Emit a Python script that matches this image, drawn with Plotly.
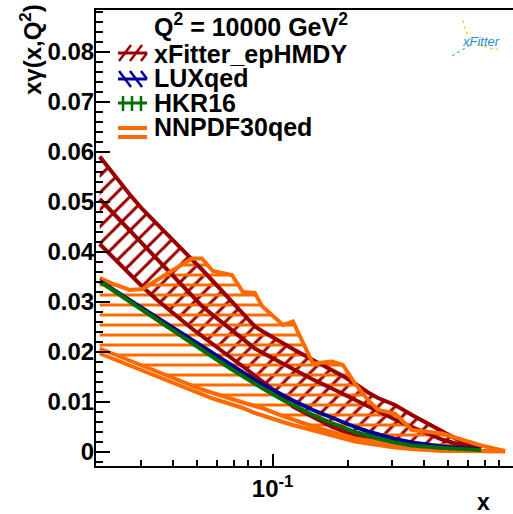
import plotly.graph_objects as go

# ---------------- data ----------------
# x grid shared by xFitter_epHMDY, LUXqed and HKR16
x_main = [0.0205, 0.0235, 0.0270, 0.0304, 0.0349, 0.0408, 0.0477, 0.0523, 0.0578,
          0.0689, 0.0762, 0.0850, 0.0907, 0.1099, 0.1205, 0.1447, 0.1723, 0.1905,
          0.2128, 0.2398, 0.2628, 0.3071, 0.3589, 0.4727, 0.5679, 0.6758]
# NNPDF30qed extends one point further
x_nnpdf = x_main + [0.8424]

xfitter_up = [0.0590, 0.0552, 0.0514, 0.0484, 0.0454, 0.0420, 0.0386, 0.0364, 0.0341,
              0.0299, 0.0277, 0.0250, 0.0241, 0.0216, 0.0205, 0.0183, 0.0163, 0.0151,
              0.0136, 0.0118, 0.0107, 0.0093, 0.0073, 0.0040, 0.0019, 0.0010]
xfitter_cen = [0.0505, 0.0474, 0.0442, 0.0414, 0.0383, 0.0347, 0.0311, 0.0291, 0.0273,
               0.0243, 0.0225, 0.0206, 0.0198, 0.0175, 0.0165, 0.0144, 0.0126, 0.0115,
               0.0102, 0.0090, 0.0080, 0.0064, 0.0049, 0.0024, 0.0012, 0.0006]
xfitter_lo = [0.0415, 0.0385, 0.0354, 0.0329, 0.0302, 0.0273, 0.0246, 0.0231, 0.0214,
              0.0186, 0.0170, 0.0153, 0.0141, 0.0109, 0.0090, 0.0069, 0.0049, 0.0041,
              0.0033, 0.0026, 0.0021, 0.0014, 0.0010, 0.0005, 0.0003, 0.0003]

luxqed = [0.0341, 0.0322, 0.0302, 0.0285, 0.0266, 0.0244, 0.0222, 0.0209, 0.0195,
          0.0171, 0.0157, 0.0143, 0.0135, 0.0112, 0.0102, 0.0083, 0.0067, 0.0058,
          0.0049, 0.0040, 0.0034, 0.0025, 0.0018, 0.0010, 0.0007, 0.0004]
hkr16 = [0.0340, 0.0320, 0.0299, 0.0281, 0.0261, 0.0238, 0.0216, 0.0203, 0.0189,
         0.0164, 0.0150, 0.0135, 0.0127, 0.0103, 0.0093, 0.0073, 0.0057, 0.0048,
         0.0039, 0.0032, 0.0026, 0.0018, 0.0012, 0.0007, 0.0005, 0.0003]

nnpdf_up = [0.0347, 0.0334, 0.0323, 0.0325, 0.0344, 0.0365, 0.0386, 0.0386, 0.0361,
            0.0353, 0.0319, 0.0317, 0.0291, 0.0253, 0.0260, 0.0176, 0.0180, 0.0173,
            0.0136, 0.0103, 0.0083, 0.0076, 0.0043, 0.0036, 0.0023, 0.0012, 0.0001]
nnpdf_lo = [0.0206, 0.0194, 0.0181, 0.0171, 0.0159, 0.0146, 0.0132, 0.0124, 0.0117,
            0.0104, 0.0098, 0.0091, 0.0087, 0.0071, 0.0064, 0.0050, 0.0039, 0.0033,
            0.0026, 0.0022, 0.0019, 0.0014, 0.0010, 0.0004, 0.0002, 0.0001, 0.0001]
nnpdf_lo2 = [0.0196, 0.0184, 0.0171, 0.0161, 0.0149, 0.0135, 0.0121, 0.0114, 0.0106,
             0.0094, 0.0087, 0.0077, 0.0072, 0.0059, 0.0053, 0.0042, 0.0032, 0.0026,
             0.0020, 0.0016, 0.0013, 0.0008, 0.0005, 0.0001, 0.0001, 0.0000, 0.0000]

y_tickvals = [0.0, 0.01, 0.02, 0.03, 0.04, 0.05, 0.06, 0.07, 0.08]
y_ticktext = ["0", "0.01", "0.02", "0.03", "0.04", "0.05", "0.06", "0.07", "0.08"]
x_tickvals = [0.1]
x_ticktext = ["10<sup>-1</sup>"]
x_minor = [0.03, 0.04, 0.05, 0.06, 0.07, 0.08, 0.09, 0.2, 0.3, 0.4, 0.5, 0.6, 0.7, 0.8, 0.9]

legend_title = "Q<sup>2</sup> = 10000 GeV<sup>2</sup>"
legend_labels = ["xFitter_epHMDY", "LUXqed", "HKR16", "NNPDF30qed"]

# ---------------- style ----------------
RED = "#990000"
BLUE = "#000099"
GREEN = "#006e00"
ORANGE = "#ff6a00"
FONT = "Liberation Sans, Arial, sans-serif"

W, H = 513, 514
ML, MR, MT, MB = 96, 0, 10, 48


def pxx(p):
    return (p - ML) / (W - ML - MR)


def pxy(p):
    return (H - MB - p) / (H - MT - MB)


fig = go.Figure()

# xFitter band: diagonal hatching between upper and lower edges
fig.add_trace(go.Scatter(
    x=x_main + x_main[::-1], y=xfitter_up + xfitter_lo[::-1],
    mode="lines", line=dict(width=0), fill="toself", fillcolor=RED,
    fillpattern=dict(shape="/", size=12, solidity=0.25, fgcolor=RED, fgopacity=1,
                     bgcolor="rgba(255,255,255,0)"),
    hoverinfo="skip", showlegend=False))

# NNPDF band: horizontal hatching
fig.add_trace(go.Scatter(
    x=x_nnpdf + x_nnpdf[::-1], y=nnpdf_up + nnpdf_lo[::-1],
    mode="lines", line=dict(width=0), fill="toself", fillcolor=ORANGE,
    fillpattern=dict(shape="-", size=10, solidity=0.3, fgcolor=ORANGE, fgopacity=1,
                     bgcolor="rgba(255,255,255,0)"),
    hoverinfo="skip", showlegend=False))

for yy in (xfitter_up, xfitter_cen, xfitter_lo):
    fig.add_trace(go.Scatter(x=x_main, y=yy, mode="lines",
                             line=dict(color=RED, width=4), showlegend=False))

for yy in (nnpdf_up, nnpdf_lo, nnpdf_lo2):
    fig.add_trace(go.Scatter(x=x_nnpdf, y=yy, mode="lines",
                             line=dict(color=ORANGE, width=4), showlegend=False))

fig.add_trace(go.Scatter(x=x_main, y=luxqed, mode="lines",
                         line=dict(color=BLUE, width=4), showlegend=False))
fig.add_trace(go.Scatter(x=x_main, y=hkr16, mode="lines",
                         line=dict(color=GREEN, width=4), showlegend=False))

# ---------------- legend drawn by hand ----------------
shapes = []
annotations = []


def seg(x0, y0, x1, y1, color, width):
    shapes.append(dict(type="line", xref="paper", yref="paper",
                       x0=pxx(x0), y0=pxy(y0), x1=pxx(x1), y1=pxy(y1),
                       line=dict(color=color, width=width)))


# xFitter: horizontal line with "/" hatches
seg(118, 53, 147, 53, RED, 3)
for xs in (119, 130, 141):
    seg(xs, 61, min(xs + 12, 147), 61 - (min(xs + 12, 147) - xs) * 16 / 12, RED, 2.5)
# LUXqed: horizontal line with "\" hatches
seg(118, 79, 147, 79, BLUE, 3)
for xs in (119, 130, 141):
    seg(xs, 71, min(xs + 12, 147), 71 + (min(xs + 12, 147) - xs) * 16 / 12, BLUE, 2.5)
# HKR16: horizontal line with vertical hatches
seg(118, 103, 147, 103, GREEN, 3)
for xs in (123, 132, 141):
    seg(xs, 96, xs, 111, GREEN, 2.5)
# NNPDF30qed: horizontal hatches
seg(118, 128, 147, 128, ORANGE, 4)
seg(118, 137, 147, 137, ORANGE, 4)

annotations.append(dict(xref="paper", yref="paper", x=pxx(152), y=pxy(25),
                        xanchor="left", yanchor="middle", showarrow=False,
                        text="<b>%s</b>" % legend_title,
                        font=dict(family=FONT, size=25, color="black")))
for lab, yc in zip(legend_labels, (54, 78, 103, 127)):
    annotations.append(dict(xref="paper", yref="paper", x=pxx(152), y=pxy(yc),
                            xanchor="left", yanchor="middle", showarrow=False,
                            text="<b>%s</b>" % lab,
                            font=dict(family=FONT, size=25, color="black")))

# axis titles
annotations.append(dict(xref="paper", yref="paper", x=pxx(31), y=pxy(50),
                        xanchor="center", yanchor="middle", showarrow=False,
                        textangle=-90, text="<b>x\u03b3(x,Q<sup>2</sup>)</b>",
                        font=dict(family=FONT, size=24, color="black")))
annotations.append(dict(xref="paper", yref="paper", x=pxx(483), y=pxy(502),
                        xanchor="center", yanchor="middle", showarrow=False,
                        text="<b>x</b>",
                        font=dict(family=FONT, size=23, color="black")))

# xFitter logo
annotations.append(dict(xref="paper", yref="paper", x=pxx(481), y=pxy(41),
                        xanchor="center", yanchor="middle", showarrow=False,
                        text="<i>xFitter</i>",
                        font=dict(family=FONT, size=13, color="#1e90d8")))
shapes.append(dict(type="path", xref="paper", yref="paper",
                   path="M %f %f Q %f %f %f %f T %f %f" % (
                       pxx(463), pxy(20), pxx(466), pxy(40), pxx(480), pxy(45),
                       pxx(498), pxy(49)),
                   line=dict(color="#f5b800", width=1, dash="dot")))
shapes.append(dict(type="path", xref="paper", yref="paper",
                   path="M %f %f L %f %f" % (pxx(452), pxy(56), pxx(470), pxy(45)),
                   line=dict(color="#1e90d8", width=1, dash="dot")))

fig.update_layout(
    width=W, height=H,
    margin=dict(l=ML, r=MR, t=MT, b=MB),
    paper_bgcolor="white", plot_bgcolor="white",
    showlegend=False,
    shapes=shapes, annotations=annotations,
    font=dict(family=FONT, color="black"),
    xaxis=dict(type="log", range=[-1.703, -0.043],
               showline=True, linecolor="black", linewidth=2, mirror=True,
               showgrid=False, zeroline=False,
               ticks="inside", ticklen=12, tickwidth=1.5, tickcolor="black",
               tickvals=x_tickvals, ticktext=x_ticktext,
               tickfont=dict(family=FONT, size=24, color="black", weight="bold"),
               minor=dict(ticks="inside", ticklen=6, tickwidth=1.5,
                          tickcolor="black", tickvals=x_minor)),
    yaxis=dict(range=[-0.0029, 0.0883],
               showline=True, linecolor="black", linewidth=2, mirror=False,
               showgrid=False, zeroline=False,
               ticks="inside", ticklen=14, tickwidth=1.5, tickcolor="black",
               tickvals=y_tickvals, ticktext=y_ticktext, ticklabelstandoff=-5,
               tickfont=dict(family=FONT, size=24, color="black", weight="bold"),
               minor=dict(ticks="inside", ticklen=7, tickwidth=1.5,
                          tickcolor="black", dtick=0.002, tick0=0)),
)

fig.write_html("out.html")
